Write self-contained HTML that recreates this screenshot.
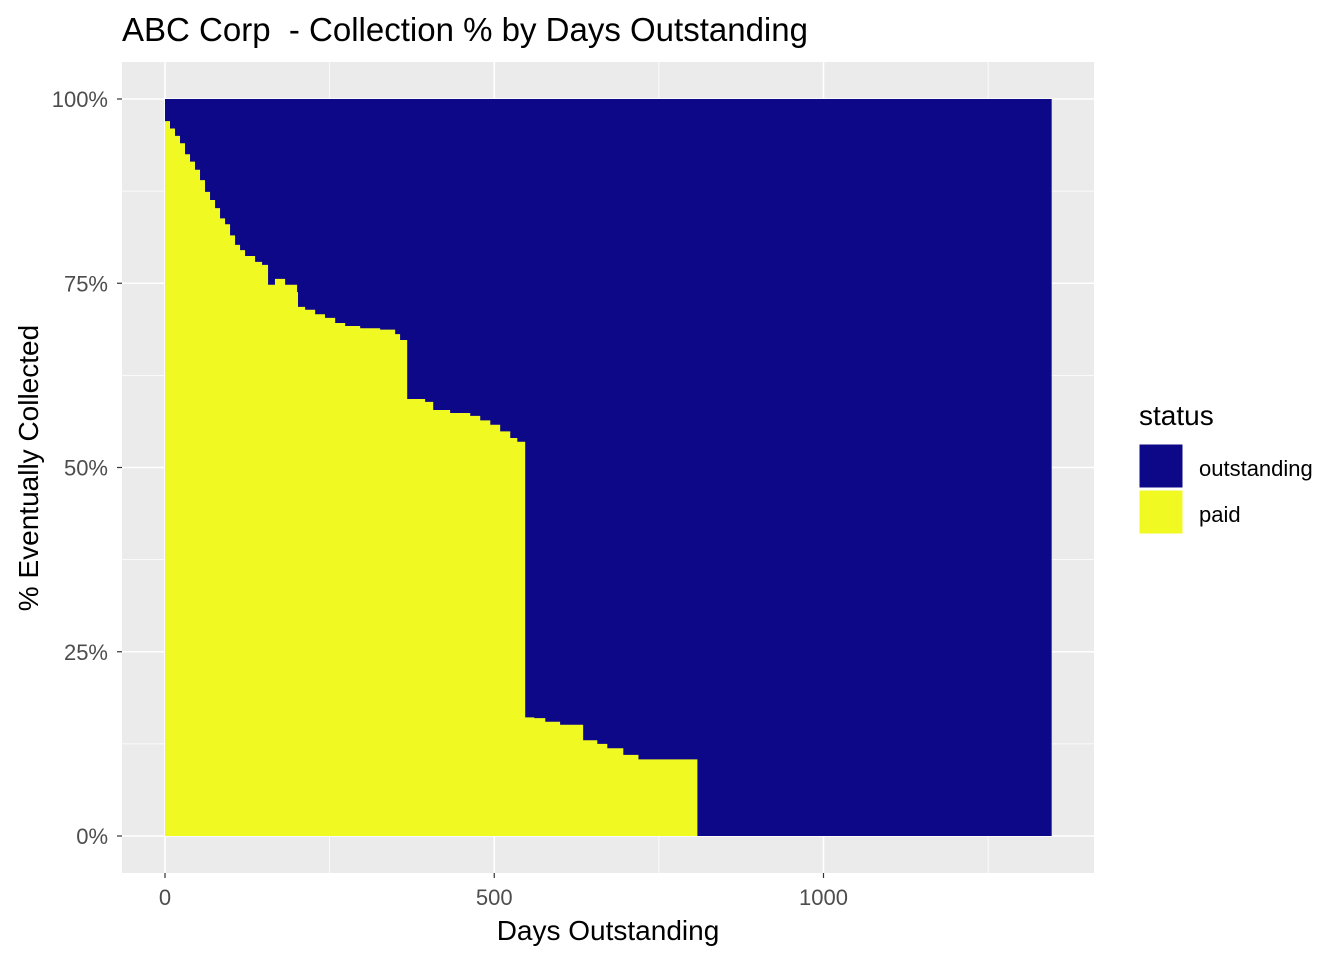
<!DOCTYPE html>
<html><head><meta charset="utf-8"><style>
body{margin:0;background:#fff;font-family:"Liberation Sans",Arial,sans-serif}
</style></head><body>
<svg id="chart" width="1344" height="960" xmlns="http://www.w3.org/2000/svg">
<text x="122" y="41" font-size="33" fill="#000" xml:space="preserve">ABC Corp  - Collection % by Days Outstanding</text>
<rect x="122" y="62" width="972" height="811" fill="#EBEBEB"/>
<g id="grid"></g>
<g id="marks"></g>
<g id="axes"></g>
<text x="608" y="940" font-size="28" text-anchor="middle" fill="#000">Days Outstanding</text>
<text transform="translate(38,468) rotate(-90)" font-size="28" text-anchor="middle" fill="#000">% Eventually Collected</text>
<text x="1139" y="425" font-size="28" fill="#000">status</text>
<rect x="1139" y="444" width="44" height="44" fill="#0D0887" stroke="#fff"/>
<text x="1199" y="476" font-size="22" fill="#000">outstanding</text>
<rect x="1139" y="490" width="44" height="44" fill="#F0F921" stroke="#fff"/>
<text x="1199" y="522" font-size="22" fill="#000">paid</text>
</svg>
<script>
const days=[0,7.6,15.2,22.8,30.4,38,45.6,53.2,60.8,68.4,76,83.6,91.2,98.8,106.4,114,121.6,136.8,147.4,156.5,167,182.4,200.6,202,212.8,228,243,258.4,273.6,296.4,326.7,349.5,357,367.8,395,407.3,433,463.5,478.7,494,509,524.3,535,547,560.8,577.5,600,635,656.5,671.7,696,719];
const paidPct=[97,96,95,94,92.5,91.5,90.4,89,87.4,86.3,85.2,83.8,83,81.5,80.2,79.5,78.7,77.9,77.5,74.8,75.6,74.8,73.8,71.8,71.4,70.8,70.3,69.6,69.2,68.9,68.7,68.1,67.3,59.3,58.9,57.8,57.4,57,56.4,55.8,54.9,54,53.5,16.1,16,15.5,15.1,13,12.5,11.9,11,10.4];
const paidEnd=808.5;
const maxDay=1346.5;
const xTicks=[0,500,1000];
const xMinor=[250,750,1250];
const yTicks=[0,25,50,75,100];
const yMinor=[12.5,37.5,62.5,87.5];
const xs=d=>165+d*0.6585;
const ys=p=>836-p*7.37;
const NS="http://www.w3.org/2000/svg";
function mk(tag,attrs,parent){const e=document.createElementNS(NS,tag);for(const k in attrs)e.setAttribute(k,attrs[k]);parent.appendChild(e);return e;}
const grid=document.getElementById('grid'),marks=document.getElementById('marks'),axes=document.getElementById('axes');
xMinor.forEach(v=>{const l=mk('line',{x1:xs(v),x2:xs(v),y1:62,y2:873,stroke:'#fff','stroke-width':0.8},grid);

});
yMinor.forEach(v=>{const l=mk('line',{x1:122,x2:1094,y1:ys(v),y2:ys(v),stroke:'#fff','stroke-width':0.8},grid);

});
xTicks.forEach(v=>{const l=mk('line',{x1:xs(v),x2:xs(v),y1:62,y2:873,stroke:'#fff','stroke-width':1.6},grid);


const t=mk('line',{x1:xs(v),x2:xs(v),y1:873,y2:878,stroke:'#333','stroke-width':1.2},axes);


const tx=mk('text',{x:xs(v),y:905,'font-size':22,'text-anchor':'middle',fill:'#4D4D4D'},axes);tx.textContent=v;

});
yTicks.forEach(v=>{const l=mk('line',{x1:122,x2:1094,y1:ys(v),y2:ys(v),stroke:'#fff','stroke-width':1.6},grid);


const t=mk('line',{x1:117,x2:122,y1:ys(v),y2:ys(v),stroke:'#333','stroke-width':1.2},axes);


const tx=mk('text',{x:108,y:ys(v)+8,'font-size':22,'text-anchor':'end',fill:'#4D4D4D'},axes);tx.textContent=v+'%';

});
const out=mk('rect',{x:xs(0),y:ys(100),width:xs(maxDay)-xs(0),height:ys(0)-ys(100),fill:'#0D0887'},marks);


let d='M'+xs(0)+','+ys(0);
for(let i=0;i<days.length;i++){const x1=xs(days[i]),x2=xs(i+1<days.length?days[i+1]:paidEnd);d+=' L'+x1+','+ys(paidPct[i])+' L'+x2+','+ys(paidPct[i]);}
d+=' L'+xs(paidEnd)+','+ys(0)+' Z';
const paid=mk('path',{d:d,fill:'#F0F921'},marks);


</script>
</body></html>
